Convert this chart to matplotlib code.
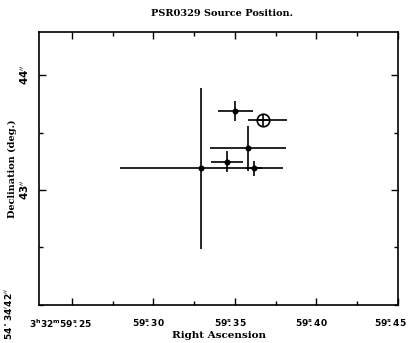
import numpy as np
import matplotlib
matplotlib.use('Agg')
import matplotlib.pyplot as plt
import matplotlib.transforms as mtransforms
from matplotlib.ticker import MultipleLocator

# RA seconds (of 3h32m) and Dec arcsec (of 54d34m)
ra = [59.3293, 59.3453, 59.3582, 59.3615, 59.3503]
ra_err = [0.0500, 0.0097, 0.0234, 0.0050, 0.0105]
dec = [43.19, 43.246, 43.363, 43.189, 43.69]
dec_err = [0.70, 0.093, 0.195, 0.065, 0.087]

# reference position (circle with cross)
ref_ra = 59.3672
ref_ra_err = [[0.0095], [0.0150]]
ref_dec = 43.613

xticks = [59.25, 59.30, 59.35, 59.40, 59.45]
xticklabels = [r'$\mathbf{3^{h}32^{m}59^{s}\!\!.25}$', r'$\mathbf{59^{s}\!\!.30}$',
               r'$\mathbf{59^{s}\!\!.35}$', r'$\mathbf{59^{s}\!\!.40}$', r'$\mathbf{59^{s}\!\!.45}$']
yticks = [43, 44]
yticklabels = [r'$\mathbf{43^{\prime\prime}}$', r'$\mathbf{44^{\prime\prime}}$']

plt.rcParams['mathtext.fontset'] = 'dejavusans'

fig = plt.figure(figsize=(4.08, 3.43), dpi=100)
ax = fig.add_axes([0.0956, 0.1108, 0.8799, 0.7959])

ax.errorbar(ra, dec, xerr=ra_err, yerr=dec_err, fmt='o', color='black',
            ms=3.3, elinewidth=1.2, capsize=0)
ax.errorbar([ref_ra], [ref_dec], xerr=ref_ra_err, fmt='o', mfc='none', mec='black',
            ms=9, mew=1.2, color='black', elinewidth=1.2, capsize=0)
ax.plot([ref_ra], [ref_dec], '+', color='black', ms=9, mew=1.2)

ax.set_xlim(59.2298, 59.45)
ax.set_ylim(42, 44.374)

ax.set_xticks(xticks)
ax.set_xticklabels(xticklabels, fontsize=6.5)
ax.set_yticks(yticks)
ax.set_yticklabels(yticklabels, fontsize=7.5, rotation=90, va='center')
ax.xaxis.set_minor_locator(MultipleLocator(0.025))
ax.yaxis.set_minor_locator(MultipleLocator(0.5))
ax.tick_params(which='both', direction='in', top=True, right=True, width=1)
ax.tick_params(which='major', length=5)
ax.tick_params(which='minor', length=3)
ax.tick_params(axis='x', pad=9)
ax.tick_params(axis='y', pad=6)
for s in ax.spines.values():
    s.set_linewidth(1.2)

# shift x tick labels slightly left of their ticks (edge ones a bit more)
offsets = [-11, -5, -5, -5, -8]
for lab, dx in zip(ax.get_xticklabels(), offsets):
    lab.set_transform(lab.get_transform() +
                      mtransforms.ScaledTranslation(dx / 100, 0, fig.dpi_scale_trans))

ax.set_xlabel('Right Ascension', fontsize=7.5, fontweight='bold',
              family='DejaVu Serif', labelpad=1)
ax.set_ylabel('Declination (deg.)', fontsize=7, fontweight='bold',
              family='DejaVu Serif', labelpad=1)
fig.text(0.545, 0.96, 'PSR0329 Source Position.', ha='center', va='center',
         fontsize=7, fontweight='bold', family='DejaVu Serif')
fig.text(0.022, 0.085, r'$\mathbf{54^\circ 34^\prime 42^{\prime\prime}}$', rotation=90,
         ha='center', va='center', fontsize=6.5)

plt.savefig('out.png', dpi=100)
